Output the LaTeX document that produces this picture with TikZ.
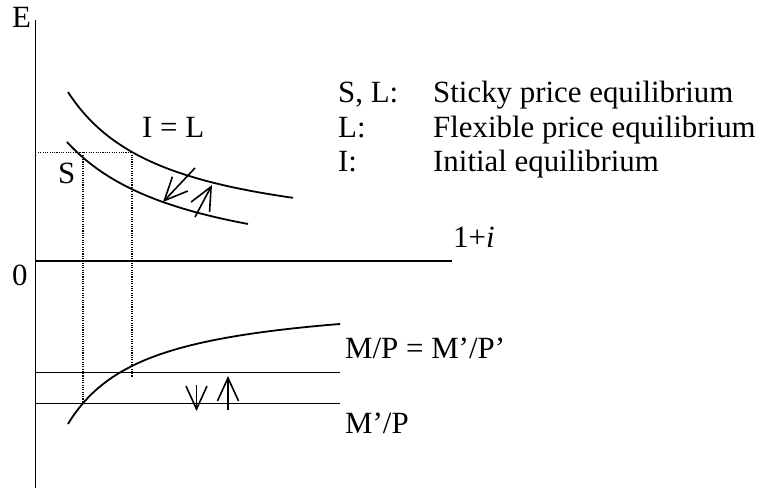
\documentclass[tikz,border=0pt]{standalone}
\usepackage{fontspec}
\setmainfont{Liberation Serif}
\usetikzlibrary{arrows.meta}
\begin{document}
\begin{tikzpicture}[x=1bp,y=-1bp,
  lbl/.style={anchor=base west,inner sep=0pt,font=\fontsize{31}{34}\selectfont},
  solid line/.style={line width=1.8bp},
  guide/.style={line width=1.1bp,dash pattern=on 1.1bp off 1.2bp},
  barb/.style={line width=1.6bp,-{Straight Barb[length=23bp,width=21bp,line width=1.6bp]}}]
\useasboundingbox (0,0) rectangle (764,489);
% axes
\coordinate (ytop) at (35.5,20);
\coordinate (ybot) at (35.5,488);
\coordinate (xl) at (35.5,261);
\coordinate (xr) at (452,261);
\draw[solid line] (ytop) -- (ybot);
\draw[solid line] (xl) -- (xr);
\node[lbl] (E) at (12,28) {E};
\node[lbl] (zero) at (12,286) {0};
\node[lbl] (oneplusi) at (453,248) {1+\textit{i}};
% upper curves
\draw[solid line] plot[domain=68:293,samples=80,smooth] (\x,{243.9-1000*(14.885/(\x+30))});
\draw[solid line] plot[domain=67:248,samples=80,smooth] (\x,{281.5-1000*(17.722/(\x+60))});
% dotted guides
\coordinate (gL) at (38,152.3);
\coordinate (gI) at (132,152.3);
\coordinate (gS) at (83,152.3);
\coordinate (gIb) at (132,377);
\coordinate (gSb) at (83,404);
\draw[guide] (gL) -- (gI);
\draw[guide] (gS) -- (gSb);
\draw[guide] (gI) -- (gIb);
\node[lbl] (S) at (58,184) {S};
\node[lbl] (IL) at (142,138) {I = L};
% upper arrows
\coordinate (a1s) at (195,168);
\coordinate (a1e) at (163,202);
\coordinate (a2s) at (195,217);
\coordinate (a2e) at (212,185);
\draw[barb] (a1s) -- (a1e);
\draw[barb] (a2s) -- (a2e);
% lower lines
\coordinate (m1l) at (35.5,372.5);
\coordinate (m1r) at (340,372.5);
\coordinate (m2l) at (35.5,403.5);
\coordinate (m2r) at (340,403.5);
\draw[solid line] (m1l) -- (m1r);
\draw[solid line] (m2l) -- (m2r);
\draw[solid line] plot[domain=68:340,samples=80,smooth] (\x,{295.3+1000*(10.036/(\x+10))});
% lower arrows
\coordinate (b1s) at (196.5,385);
\coordinate (b1e) at (196.5,411);
\coordinate (b2s) at (228,410);
\coordinate (b2e) at (228,376);
\draw[barb] (b1s) -- (b1e);
\draw[barb] (b2s) -- (b2e);
\node[lbl] (MP) at (345,358) {M/P = M’/P’};
\node[lbl] (MpP) at (345,433) {M’/P};
% legend
\node[lbl] (k1) at (338,103) {S, L:};
\node[lbl] (k2) at (338,138) {L:};
\node[lbl] (k3) at (338,172) {I:};
\node[lbl] (v1) at (433,103) {Sticky price equilibrium};
\node[lbl] (v2) at (433,138) {Flexible price equilibrium};
\node[lbl] (v3) at (433,172) {Initial equilibrium};
\end{tikzpicture}
\end{document}
